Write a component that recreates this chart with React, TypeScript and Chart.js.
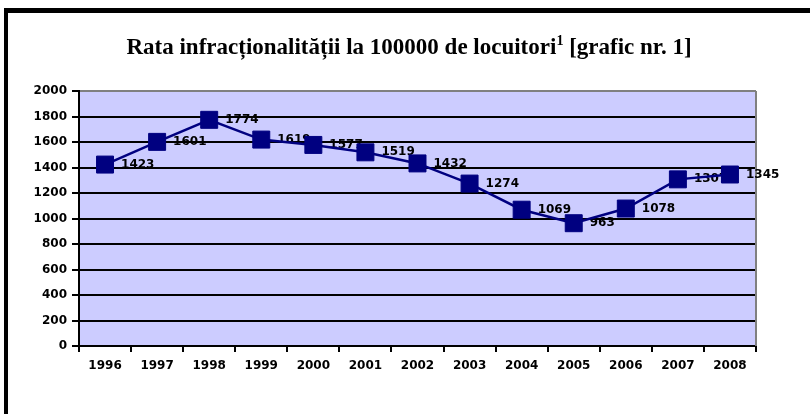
import React, { useEffect, useRef } from "react";
import { Chart, registerables } from "chart.js";

Chart.register(...registerables);

const years: string[] = ["1996", "1997", "1998", "1999", "2000", "2001", "2002", "2003", "2004", "2005", "2006", "2007", "2008"];
const rates: number[] = [1423, 1601, 1774, 1619, 1577, 1519, 1432, 1274, 1069, 963, 1078, 1307, 1345];
const yMin = 0;
const yMax = 2000;
const yStep = 200;
const titleMain = "Rata infracționalității la 100000 de locuitori";
const titleSup = "1";
const titleTail = " [grafic nr. 1]";

const tickFont = { family: "'DejaVu Sans', Arial, sans-serif", size: 12, weight: "bold" as const };

const decorPlugin = {
  id: "decor",
  beforeDraw(chart: any) {
    const { ctx, chartArea } = chart;
    ctx.save();
    ctx.fillStyle = "#ffffff";
    ctx.fillRect(0, 0, chart.width, chart.height);
    ctx.fillStyle = "#ccccff";
    ctx.fillRect(chartArea.left, chartArea.top, chartArea.right - chartArea.left, chartArea.bottom - chartArea.top);
    // outer frame (top and left edges)
    ctx.fillStyle = "#000000";
    ctx.fillRect(4, 8, chart.width - 4, 5);
    ctx.fillRect(4, 8, 4, chart.height - 8);
    // title with superscript
    const mainFont = "bold 23px 'Liberation Serif', 'Times New Roman', serif";
    const supFont = "bold 14px 'Liberation Serif', 'Times New Roman', serif";
    ctx.font = mainFont;
    const w1 = ctx.measureText(titleMain).width;
    const w3 = ctx.measureText(titleTail).width;
    ctx.font = supFont;
    const w2 = ctx.measureText(titleSup).width;
    const total = w1 + w2 + w3;
    let x = 409 - total / 2;
    const base = 54;
    ctx.textAlign = "left";
    ctx.textBaseline = "alphabetic";
    ctx.font = mainFont;
    ctx.fillText(titleMain, x, base);
    x += w1;
    ctx.font = supFont;
    ctx.fillText(titleSup, x, base - 9);
    x += w2;
    ctx.font = mainFont;
    ctx.fillText(titleTail, x, base);
    ctx.restore();
  },
  beforeDatasetsDraw(chart: any) {
    const { ctx, chartArea } = chart;
    ctx.save();
    ctx.strokeStyle = "#808080";
    ctx.lineWidth = 2;
    ctx.beginPath();
    ctx.moveTo(chartArea.right, chartArea.top);
    ctx.lineTo(chartArea.right, chartArea.bottom);
    ctx.stroke();
    // data labels (drawn beneath the line and markers)
    const meta = chart.getDatasetMeta(0);
    ctx.fillStyle = "#000000";
    ctx.font = "bold 12px 'DejaVu Sans', Arial, sans-serif";
    ctx.textAlign = "left";
    ctx.textBaseline = "middle";
    meta.data.forEach((pt: any, i: number) => {
      ctx.fillText(String(rates[i]), pt.x + 16, pt.y);
    });
    ctx.restore();
  },
};

export default function App() {
  const canvasRef = useRef<HTMLCanvasElement | null>(null);

  useEffect(() => {
    document.body.style.margin = "0";
    const canvas = canvasRef.current;
    if (!canvas) return;
    const chart = new Chart(canvas, {
      type: "line",
      data: {
        labels: years,
        datasets: [
          {
            data: rates,
            borderColor: "#000080",
            borderWidth: 2.5,
            backgroundColor: "#000080",
            pointStyle: "rect",
            pointRadius: 12,
            pointBorderWidth: 1,
            pointBorderColor: "#000080",
            pointBackgroundColor: "#000080",
            tension: 0,
            fill: false,
          },
        ],
      },
      options: {
        responsive: false,
        animation: false,
        devicePixelRatio: 1,
        layout: { padding: { top: 91, left: 0, right: 54, bottom: 0 } },
        plugins: {
          legend: { display: false },
          tooltip: { enabled: false },
          title: { display: false },
        },
        scales: {
          x: {
            offset: true,
            grid: {
              offset: true,
              drawOnChartArea: false,
              drawTicks: true,
              tickLength: 6,
              color: "#000000",
              lineWidth: 2,
            },
            border: { display: true, color: "#000000", width: 2 },
            ticks: { font: tickFont, color: "#000000", padding: 7, maxRotation: 0, autoSkip: false },
            afterFit: (s: any) => {
              s.height = 68;
            },
          },
          y: {
            min: yMin,
            max: yMax,
            ticks: {
              stepSize: yStep,
              font: tickFont,
              color: "#000000",
              padding: 5,
              callback: (v: any) => String(v),
            },
            grid: {
              color: (c: any) => (c.tick && c.tick.value === yMax ? "#808080" : "#000000"),
              tickColor: "#000000",
              lineWidth: 2,
              tickLength: 7,
            },
            border: { display: true, color: "#000000", width: 2 },
            afterFit: (s: any) => {
              s.width = 79;
            },
          },
        },
      },
      plugins: [decorPlugin],
    });
    return () => chart.destroy();
  }, []);

  return (
    <div style={{ width: 810, height: 414 }}>
      <canvas ref={canvasRef} width={810} height={414} style={{ display: "block" }} />
    </div>
  );
}
